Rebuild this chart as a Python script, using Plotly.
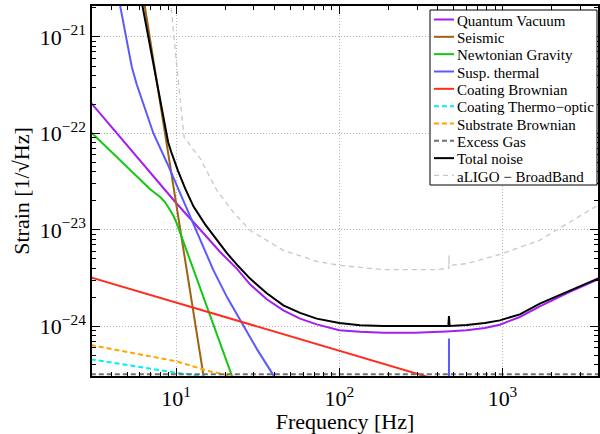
import plotly.graph_objects as go

# ---------------- data (Hz, strain 1/sqrt(Hz)) ----------------
f_quantum = [3.0, 3.072, 6.02, 8.563, 10, 15.42, 18.6, 23.53, 28.39, 35.93, 45.4, 57.44, 72.71, 100,
             133.9, 185.9, 290.8, 454.7, 602.6, 780, 963.9, 1278, 1694, 2586, 3838, 3900]
quantum = [2.088e-22, 1.991e-22, 5.19e-23, 2.566e-23, 1.9e-23, 8.43e-24, 5.9e-24, 3.965e-24, 2.725e-24,
           1.905e-24, 1.465e-24, 1.201e-24, 1.048e-24, 9.09e-25, 8.77e-25, 8.60e-25, 8.60e-25, 8.85e-25,
           9.1e-25, 9.6e-25, 1.04e-24, 1.25e-24, 1.612e-24, 2.279e-24, 3.049e-24, 3.09e-24]

f_seismic = [6.18, 9.49, 14.69, 16.0]
seismic = [3.16e-21, 3.27e-23, 3.1e-25, 1.26e-25]

f_newtonian = [3.0, 3.072, 6.02, 6.93, 7.98, 8.563, 9.19, 9.654, 10.10, 10.43, 10.84, 12.18, 14.03,
               17.34, 21.94, 24.66]
newtonian = [1.035e-22, 9.96e-23, 3.32e-23, 2.64e-23, 2.19e-23, 1.931e-23, 1.595e-23, 1.382e-23,
             1.161e-23, 1.0e-23, 8.43e-24, 4.87e-24, 2.518e-24, 9.35e-25, 3.10e-25, 1.79e-25]

f_susp = [4.35, 4.54, 4.87, 5.083, 5.35, 5.73, 6.17, 7.26, 8.81, 10.43, 12.48, 14.03, 16.91, 20.53,
          25.2, 31.33, 39.4, 46.4, 100, 469.5, 470, 470.5, 3900]
susp = [3.05e-21, 2.05e-21, 1.08e-21, 7.45e-22, 4.89e-22, 3.232e-22, 2.21e-22, 9.98e-23, 4.91e-23,
        2.512e-23, 1.26e-23, 7.81e-24, 3.82e-24, 1.998e-24, 1.11e-24, 5.77e-25, 3.12e-25, 1.94e-25,
        3.0e-26, 1.0e-27, 7.5e-25, 1.0e-27, 1.0e-28]

f_coat_brown = [3.0, 30, 100, 400]
coat_brown = [3.22e-24, 1.017e-24, 5.57e-25, 2.79e-25]

f_coat_to = [3.0, 10, 14.5, 16]
coat_to = [4.56e-25, 3.3e-25, 3.05e-25, 2.85e-25]

f_substrate = [3.0, 10, 15.8, 22, 26]
substrate = [6.4e-25, 4.35e-25, 3.44e-25, 3.05e-25, 2.8e-25]

f_gas = [3.0, 3900]
gas = [3.18e-25, 3.18e-25]

f_total = [5.934, 6.218, 7.293, 8.563, 8.933, 9.32, 10.24, 11.35, 12.76, 15.05, 17.75, 20.53, 24.07,
           28.39, 35.93, 45.4, 57.44, 72.71, 100, 133.9, 185.9, 454.7, 466, 470, 474, 602.6, 780,
           963.9, 1278, 1694, 2586, 3838, 3900]
total = [3.20e-21, 2.097e-21, 4.735e-22, 1.078e-22, 8.09e-23, 6.45e-23, 4.146e-23, 2.698e-23,
         1.755e-23, 1.142e-23, 7.79e-24, 5.71e-24, 4.19e-24, 3.123e-24, 2.198e-24, 1.651e-24,
         1.380e-24, 1.201e-24, 1.082e-24, 1.029e-24, 1.007e-24, 1.007e-24, 1.01e-24, 1.28e-24,
         1.01e-24, 1.03e-24, 1.08e-24, 1.153e-24, 1.331e-24, 1.719e-24, 2.361e-24, 3.123e-24, 3.16e-24]

f_aligo = [9.12, 9.32, 10.1, 11.19, 14.03, 17.75, 22.44, 28.39, 45.4, 72.7, 100, 186, 395, 456,
           469.5, 470, 470.5, 603, 964, 1694, 3838]
aligo = [3.05e-21, 2.05e-21, 4.89e-22, 9.12e-23, 5.52e-23, 2.57e-23, 1.52e-23, 9.89e-24, 6.14e-24,
         4.72e-24, 4.29e-24, 3.87e-24, 3.87e-24, 3.99e-24, 3.99e-24, 5.45e-24, 4.29e-24,
         4.46e-24, 5.58e-24, 7.82e-24, 1.8e-23]

x_tickvals = [10, 100, 1000]
x_ticktext = ["10<sup>1</sup>", "10<sup>2</sup>", "10<sup>3</sup>"]
y_tickvals = [1e-24, 1e-23, 1e-22, 1e-21]
y_ticktext = ["10<sup>\u221224</sup>", "10<sup>\u221223</sup>", "10<sup>\u221222</sup>", "10<sup>\u221221</sup>"]

x_minor = [m * 10 ** e for e in range(0, 4) for m in range(2, 10)]
y_minor = [m * 10.0 ** e for e in range(-25, -20) for m in range(2, 10)]

FONT = "Liberation Serif"

series = [
    ("Quantum Vacuum", f_quantum, quantum, "#a31ef0", "solid", 2),
    ("Seismic", f_seismic, seismic, "#9c6410", "solid", 2),
    ("Newtonian Gravity", f_newtonian, newtonian, "#12c812", "solid", 2),
    ("Susp. thermal", f_susp, susp, "#5a5aff", "solid", 2),
    ("Coating Brownian", f_coat_brown, coat_brown, "#ff2d1e", "solid", 2),
    ("Coating Thermo\u2212optic", f_coat_to, coat_to, "#00f0f0", "5px,3px", 2),
    ("Substrate Brownian", f_substrate, substrate, "#ffa500", "5px,3px", 2),
    ("Excess Gas", f_gas, gas, "#707070", "5px,3px", 2),
    ("Total noise", f_total, total, "#000000", "solid", 2),
    ("aLIGO \u2212 BroadBand", f_aligo, aligo, "#c8c8c8", "5px,4px", 1.3),
]

fig = go.Figure()
for name, fx, fy, color, dash, w in series:
    fig.add_trace(go.Scatter(x=fx, y=fy, mode="lines", name=name, showlegend=False,
                             line=dict(color=color, dash=dash, width=w)))

axis_common = dict(
    type="log", showline=True, linecolor="black", linewidth=1.5, mirror="allticks",
    ticks="inside", ticklen=8, tickwidth=1, tickcolor="black",
    showgrid=True, gridcolor="#b4b4b4", griddash="1px,2px", gridwidth=1,
    zeroline=False, tickmode="array", automargin=False,
    tickfont=dict(family=FONT, size=22, color="black"),
)

fig.update_xaxes(**axis_common, range=[0.4843, 3.5855],
                 tickvals=x_tickvals, ticktext=x_ticktext, ticklabelstandoff=2,
                 minor=dict(tickmode="array", tickvals=x_minor, ticks="inside", ticklen=4,
                            tickcolor="black", showgrid=False),
                 title=dict(text="Frequency [Hz]", font=dict(family=FONT, size=22, color="black"),
                            standoff=1))
fig.update_yaxes(**axis_common, range=[-24.515, -20.679],
                 tickvals=y_tickvals, ticktext=y_ticktext,
                 minor=dict(tickmode="array", tickvals=y_minor, ticks="inside", ticklen=4,
                            tickcolor="black", showgrid=False),
                 title=dict(text="Strain [1/\u221aHz]", font=dict(family=FONT, size=22, color="black"),
                            standoff=4))

# ---------------- legend box (drawn as layout shapes / annotations) ----------------
L, T, PW, PH = 92, 6, 506, 370


def px(x):
    return (x - L) / PW


def py(y):
    return 1 - (y - T) / PH


shapes = [dict(type="rect", xref="paper", yref="paper", x0=px(430), x1=px(597), y0=py(185), y1=py(10),
               line=dict(color="black", width=1), fillcolor="white", layer="above")]
annotations = []
for i, (name, fx, fy, color, dash, w) in enumerate(series):
    yc = 20.7 + 17.33 * i
    shapes.append(dict(type="line", xref="paper", yref="paper", x0=px(434), x1=px(454),
                       y0=py(yc - 1.2), y1=py(yc - 1.2), layer="above",
                       line=dict(color=color, dash=dash, width=2 if w >= 2 else 1.3)))
    annotations.append(dict(text=name, xref="paper", yref="paper", x=px(455), y=py(yc),
                            xanchor="left", yanchor="middle", showarrow=False,
                            font=dict(family=FONT, size=15, color="black")))

fig.update_layout(
    width=600, height=434,
    margin=dict(l=L, r=600 - L - PW, t=T, b=434 - T - PH),
    plot_bgcolor="white", paper_bgcolor="white",
    font=dict(family=FONT, color="black"),
    showlegend=False,
    shapes=shapes, annotations=annotations,
)

fig.write_html("out.html", config={"displayModeBar": False},
               post_script="document.body.style.margin='0px';")
